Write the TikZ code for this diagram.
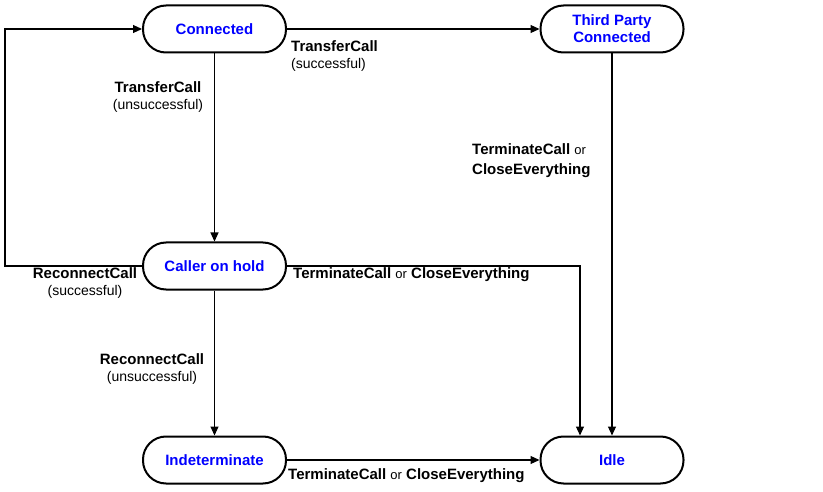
\documentclass[tikz,border=0pt]{standalone}
\usepackage{fontspec}
\setmainfont{Liberation Sans}
\usetikzlibrary{arrows.meta}
\begin{document}
\begin{tikzpicture}[x=1pt,y=-1pt,
  state/.style={draw, line width=2pt, rounded corners=23pt, minimum width=143pt, minimum height=47pt,
     inner sep=0pt, align=center, text=blue, font=\fontsize{15}{17}\selectfont\bfseries},
  conn/.style={line width=1.1pt, -{Triangle[length=9pt,width=8pt]}},
  lbl/.style={inner sep=0pt, font=\fontsize{15}{17}\selectfont},
  small/.style={font=\fontsize{13}{15}\selectfont\mdseries}]
\useasboundingbox (0,0) rectangle (823,492);
\node[state] (conn) at (214.5,29) {Connected};
\node[state] (third) at (612,29) {Third Party\\Connected};
\node[state] (hold) at (214.5,266) {Caller on hold};
\node[state] (indet) at (214.5,460) {Indeterminate};
\node[state] (idle) at (612,460) {Idle};
\coordinate (lc) at (5,266);
\coordinate (rc) at (580,266);
\draw[conn] (conn.east) -- (third.west);
\draw[conn] (conn.south) -- (hold.north);
\draw[conn] (hold.west) -- (lc) |- (conn.west);
\draw[conn] (hold.east) -- (rc) -- (rc |- idle.north);
\draw[conn] (third.south) -- (idle.north);
\draw[conn] (hold.south) -- (indet.north);
\draw[conn] (indet.east) -- (idle.west);
\node[lbl, align=left, anchor=north west] (l1) at (291,40) {\textbf{TransferCall}\\\fontsize{14}{17}\selectfont(successful)};
\node[lbl, align=center] (l2) at (158,97) {\textbf{TransferCall}\\\fontsize{14}{17}\selectfont(unsuccessful)};
\node[lbl, align=left, anchor=west] (l3) at (472,161) {\textbf{TerminateCall} {\fontsize{13}{15}\selectfont or}\\[3pt]\textbf{CloseEverything}};
\node[lbl, align=center] (l4) at (85,283) {\textbf{ReconnectCall}\\\fontsize{14}{17}\selectfont(successful)};
\node[lbl, anchor=west] (l5) at (293,275) {\textbf{TerminateCall} {\fontsize{13}{15}\selectfont or} \textbf{CloseEverything}};
\node[lbl, align=center] (l6) at (152,369) {\textbf{ReconnectCall}\\\fontsize{14}{17}\selectfont(unsuccessful)};
\node[lbl, anchor=west] (l7) at (288,476) {\textbf{TerminateCall} {\fontsize{13}{15}\selectfont or} \textbf{CloseEverything}};
\end{tikzpicture}
\end{document}
